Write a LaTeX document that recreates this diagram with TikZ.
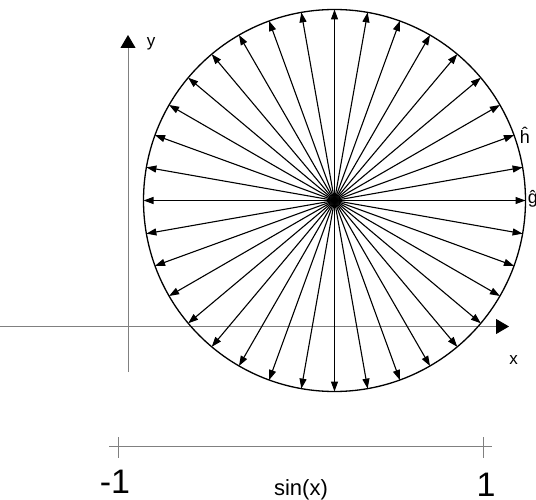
\documentclass[tikz,border=0pt]{standalone}
\usepackage{fontspec}
\setmainfont{Liberation Sans}
\usetikzlibrary{arrows.meta}
\begin{document}
\begin{tikzpicture}[x=1pt,y=-1pt,
  axisline/.style={draw=black!50, line width=0.9pt},
  axistip/.style={-{Triangle[length=13pt,width=15pt,color=black]}},
  ray/.style={-{Triangle[length=10pt,width=7pt]}, line width=1.1pt},
  rim/.style={line width=1.3pt},
  lbl/.style={inner sep=0pt, anchor=base, text depth=0pt, font=\fontsize{17}{19}\selectfont},
  bigl/.style={inner sep=0pt, anchor=base, text depth=0pt, font=\fontsize{34}{40}\selectfont}]
\useasboundingbox (0,0) rectangle (536,500);
% axes
\coordinate (ybot) at (128,372);
\coordinate (ytop) at (128,35);
\coordinate (xleft) at (0,326.5);
\coordinate (xright) at (509,326.5);
\draw[axisline, axistip] (ybot) -- (ytop);
\draw[axisline, axistip] (xleft) -- (xright);
\node[lbl] (ylab) at (151,47) {y};
\node[lbl] (xlab) at (513.5,364) {x};
% circle and rays
\coordinate (O) at (334.5,200.5);
\draw[rim] (O) circle[radius=191];
\foreach \a in {0,10,...,350}
  \draw[ray] (O) -- ++(\a:191);
\node[lbl, font=\fontsize{18}{20}\selectfont] (hlab) at (525,143.5) {\^{h}};
\node[lbl, font=\fontsize{18}{20}\selectfont] (glab) at (533,204) {\^{g}};
% sin scale
\coordinate (sl) at (109,446);
\coordinate (sr) at (492,446);
\coordinate (t1) at (118,437);
\coordinate (t1b) at (118,458);
\coordinate (t2) at (483,437);
\coordinate (t2b) at (483,458);
\draw[axisline] (sl) -- (sr);
\draw[axisline] (t1) -- (t1b);
\draw[axisline] (t2) -- (t2b);
\node[bigl] (m1) at (115,493) {-1};
\node[bigl] (p1) at (486,496.5) {1};
\node[lbl, font=\fontsize{22}{24}\selectfont] (sinx) at (301,495) {sin(x)};
\end{tikzpicture}
\end{document}
